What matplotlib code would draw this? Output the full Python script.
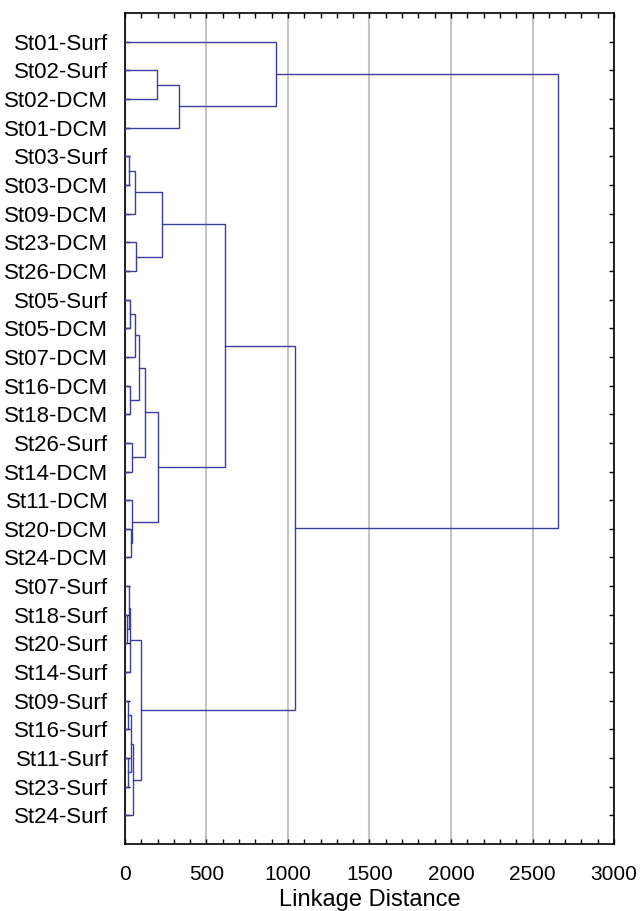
import matplotlib
matplotlib.use('Agg')
import matplotlib.pyplot as plt
import numpy as np

plt.rcParams['font.family'] = ['Liberation Sans', 'DejaVu Sans']

# leaf order top to bottom
labels = ['St01-Surf', 'St02-Surf', 'St02-DCM', 'St01-DCM', 'St03-Surf', 'St03-DCM',
          'St09-DCM', 'St23-DCM', 'St26-DCM', 'St05-Surf', 'St05-DCM', 'St07-DCM',
          'St16-DCM', 'St18-DCM', 'St26-Surf', 'St14-DCM', 'St11-DCM', 'St20-DCM',
          'St24-DCM', 'St07-Surf', 'St18-Surf', 'St20-Surf', 'St14-Surf', 'St09-Surf',
          'St16-Surf', 'St11-Surf', 'St23-Surf', 'St24-Surf']

# linkage: ids < n are leaves, id n+k is the k-th merge
merge_left = [1, 28, 0, 4, 31, 7, 32, 9, 35, 12, 36, 14, 38, 17, 16, 40, 34,
              20, 19, 46, 23, 25, 48, 50, 47, 44, 30]
merge_right = [2, 3, 29, 5, 6, 8, 33, 10, 11, 13, 37, 15, 39, 18, 41, 42, 43,
               21, 45, 22, 24, 26, 49, 27, 51, 52, 53]
merge_dist = [194, 331, 926, 26, 63, 67, 229, 33, 63, 33, 88, 43, 123, 38, 43, 204, 613,
              15, 22, 28, 20, 20, 35, 47, 98, 1043, 2655]

n = len(labels)
ypos = {i: i + 1 for i in range(n)}
height = {i: 0.0 for i in range(n)}

fig = plt.figure(figsize=(6.43, 9.11), dpi=100)
ax = fig.add_axes([0.1944, 0.0735, 0.7605, 0.9122])

link_col = '#3a3f9e'
for k, (a, b, d) in enumerate(zip(merge_left, merge_right, merge_dist)):
    ya, yb = ypos[a], ypos[b]
    ax.plot([height[a], d, d, height[b]], [ya, ya, yb, yb], color=link_col, lw=1.0,
            solid_joinstyle='miter', zorder=3)
    ypos[n + k] = (ya + yb) / 2.0
    height[n + k] = d

ax.set_xlim(0, 3000)
ax.set_ylim(n + 1, 0)
ax.set_xticks(np.arange(0, 3001, 500))
ax.set_xticks(np.arange(0, 3001, 100), minor=True)
ax.set_yticks(range(1, n + 1))
ax.set_yticklabels(labels)

ax.grid(axis='x', which='major', color='#c4c4c4', lw=1.5, zorder=1)
ax.tick_params(axis='x', which='both', direction='in', top=True, bottom=True,
               length=3.5, width=1, labelsize=15, pad=15)
ax.tick_params(axis='y', which='both', direction='in', left=True, right=True,
               length=3.5, width=1, labelsize=16, pad=12)
for s in ax.spines.values():
    s.set_linewidth(1.2)

ax.set_xlabel('Linkage Distance', fontsize=17, labelpad=4)

fig.savefig('out.png', dpi=100)
